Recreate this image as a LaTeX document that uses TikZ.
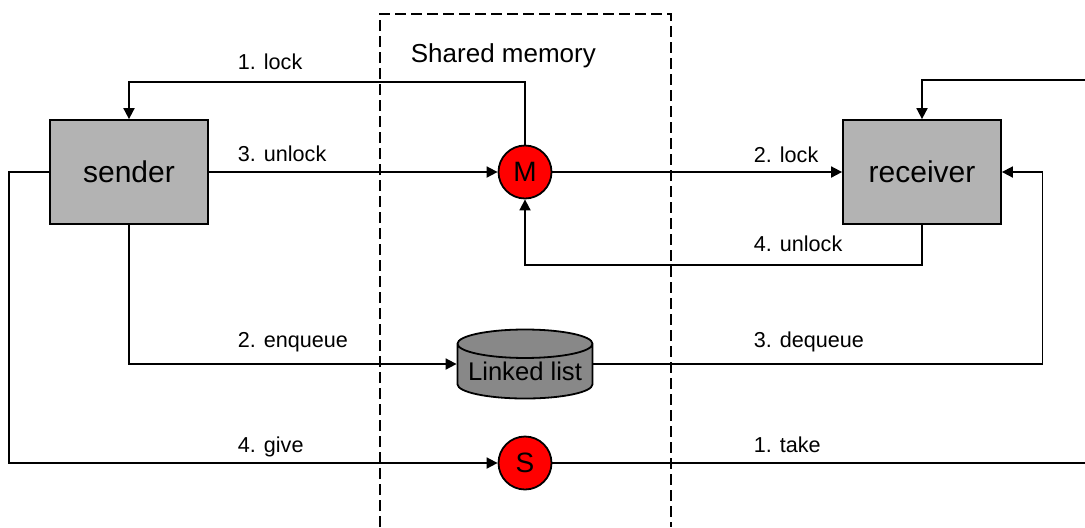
\documentclass[tikz,border=0pt]{standalone}
\usepackage{xcolor}
\usepackage{fontspec}
\setmainfont{Liberation Sans}
\usepackage{tikz}
\usetikzlibrary{shapes, arrows, arrows.meta}

\definecolor{taskgray}{RGB}{179,179,179}
\definecolor{listgray}{RGB}{136,136,136}

\begin{document}
\begin{tikzpicture}[x=0.5pt,y=-0.5pt,>={Triangle[length=5.5pt,width=5.5pt]},line width=0.9pt,
      task node/.style={rectangle,draw,fill=taskgray,minimum width=79pt,
        minimum height=52pt,font=\fontsize{15}{18}\selectfont},
      sem node/.style={circle,draw,fill=red,minimum size=26.5pt,inner sep=0pt,
        font=\fontsize{14}{16}\selectfont},
      list node/.style={cylinder,shape border rotate=90,draw,fill=listgray,
        aspect=0.25,minimum width=67.5pt,minimum height=34.5pt,inner sep=0pt,
        font=\fontsize{12.8}{15}\selectfont},
      other node/.style={anchor=base west,inner sep=0pt,
        font=\fontsize{10.8}{13}\selectfont}]
    \useasboundingbox (0,0) rectangle (1085,527);

    % shared memory region
    \draw[dash pattern=on 5.5pt off 2.5pt,line width=0.7pt]
        (380,527) -- (380,14) -- (671,14) -- (671,527);
    \node[other node,font=\fontsize{13}{15}\selectfont] (shm) at (410,62) {Shared memory};

    \node[task node] (sender) at (129,172) {sender};
    \node[task node] (receiver) at (922,172) {receiver};
    \node[sem node] (M) at (525,172) {M};
    \node[list node,anchor=shape center] (list) at (525,364) {Linked list};
    \node[sem node] (S) at (525,463) {S};

    % side points of the list at the height of its middle
    \coordinate (listin) at (list.shape center -| list.west);
    \coordinate (listout) at (list.shape center -| list.east);
    % the semaphore line runs off the right edge and comes back at the top
    \coordinate (takeout) at (1085,463);
    \coordinate (takein) at (1085,80);

    % mutex
    \draw[->] (M.north) -- ++(0,-63) -| (sender.north);
    \draw[->] (sender.east) -- (M.west);
    \draw[->] (M.east) -- (receiver.west);
    \draw[->] (receiver.south) -- ++(0,40) -| (M.south);

    % queue
    \draw[->] (sender.south) |- (listin);
    \draw[->] (listout) -- ++(449,0) |- (receiver.east);

    % semaphore
    \draw[->] (sender.west) -- ++(-40,0) |- (S.west);
    \draw (S.east) -- (takeout);
    \draw[->] (takein) -| (receiver.north);

    \node[other node] (l1) at (237,69) {1. lock};
    \node[other node] (l3) at (237,161) {3. unlock};
    \node[other node] (l2) at (753,162) {2. lock};
    \node[other node] (l4) at (753,251) {4. unlock};
    \node[other node] (enq) at (237,347) {2. enqueue};
    \node[other node] (deq) at (753,347) {3. dequeue};
    \node[other node] (give) at (237,452) {4. give};
    \node[other node] (take) at (753,452) {1. take};
\end{tikzpicture}
\end{document}
